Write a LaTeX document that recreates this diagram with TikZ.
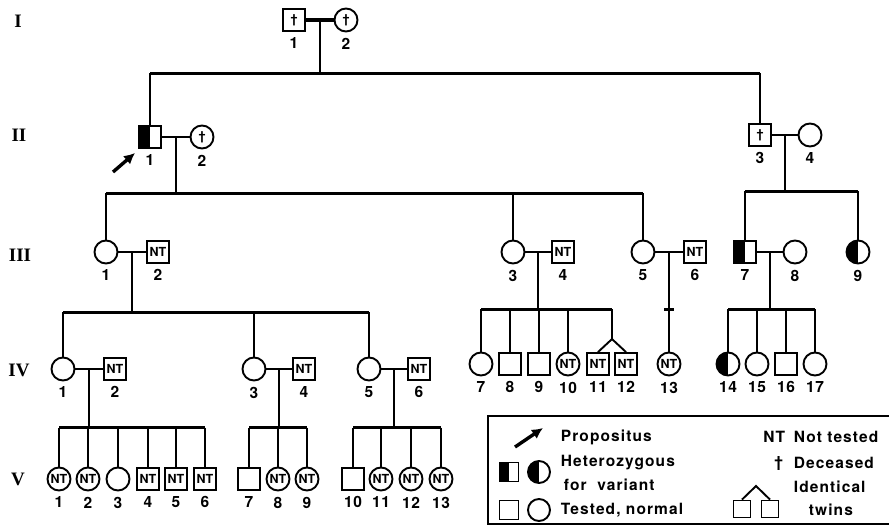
\documentclass[tikz,border=0pt]{standalone}
\usepackage{fontspec}
\setmainfont{TeX Gyre Heros}
\newfontfamily\genfont{Liberation Serif}
\newfontfamily\keyfont[LetterSpace=7]{TeX Gyre Heros}
\newfontfamily\numfont[LetterSpace=4]{TeX Gyre Heros}
\usetikzlibrary{arrows.meta, calc}

\newcommand{\numsize}{\numfont\bfseries\fontsize{15.5}{16}\selectfont}
\newcommand{\ntsize}{\bfseries\fontsize{12.5}{12.5}\selectfont}
\newcommand{\keysize}{\keyfont\bfseries\fontsize{15.5}{17}\selectfont}

\tikzset{
  male/.style={draw, rectangle, minimum size=22pt, inner sep=0pt, font=\ntsize},
  female/.style={draw, circle, minimum size=23pt, inner sep=0pt, font=\ntsize},
  het/.style={path picture={\fill (path picture bounding box.south west) rectangle (path picture bounding box.north);}},
  num/.style={font=\numsize, inner sep=1pt, label distance=3.5pt},
  sib/.style={line width=3pt},
  gen/.style={font=\genfont\bfseries\fontsize{19}{19}\selectfont},
  key/.style={font=\keysize, anchor=west, inner sep=0pt},
  prop/.style={line width=3.4pt, -{Latex[length=11pt, width=11pt]}},
}

\begin{document}
\begin{tikzpicture}[x=1pt, y=-1pt, line width=1.9pt]
  \useasboundingbox (0,0) rectangle (889,528);

  % generation numbers
  \node[gen] (gI) at (18,21) {I};
  \node[gen] (gII) at (19,135) {II};
  \node[gen] (gIII) at (20,255) {III};
  \node[gen] (gIV) at (19,370) {IV};
  \node[gen] (gV) at (18,479) {V};

  % levels of the sibship lines
  \coordinate (lvI) at (0,73);
  \coordinate (lvIIa) at (0,193);
  \coordinate (lvIIb) at (0,191);
  \coordinate (lvIIIa) at (0,312);
  \coordinate (lvIIIb) at (0,309);
  \coordinate (lvIV) at (0,427.5);

  % generation I
  \node[male, label={[num]below:1}] (I1) at (294,20) {\textdagger};
  \node[female, label={[num]below:2}] (I2) at (346,20) {\textdagger};

  % generation II
  \node[male, het, label={[num]below:1}] (II1) at (150,137) {};
  \node[female, label={[num]below:2}] (II2) at (202,137) {\textdagger};
  \node[male, label={[num]below:3}] (II3) at (760,135) {\textdagger};
  \node[female, label={[num]below:4}] (II4) at (810,135) {};

  % generation III
  \node[female, label={[num]below:1}] (III1) at (106,252) {};
  \node[male, label={[num]below:2}] (III2) at (158,252) {NT};
  \node[female, label={[num]below:3}] (III3) at (513,252) {};
  \node[male, label={[num]below:4}] (III4) at (563,252) {NT};
  \node[female, label={[num]below:5}] (III5) at (643,252) {};
  \node[male, label={[num]below:6}] (III6) at (695,252) {NT};
  \node[male, het, label={[num]below:7}] (III7) at (745,252) {};
  \node[female, label={[num]below:8}] (III8) at (795,252) {};
  \node[female, het, label={[num]below:9}] (III9) at (858,252) {};

  % generation IV
  \node[female, label={[num]below:1}] (IV1) at (63,369) {};
  \node[male, label={[num]below:2}] (IV2) at (115,369) {NT};
  \node[female, label={[num]below:3}] (IV3) at (254,369) {};
  \node[male, label={[num]below:4}] (IV4) at (304,369) {NT};
  \node[female, label={[num]below:5}] (IV5) at (369,369) {};
  \node[male, label={[num]below:6}] (IV6) at (419,369) {NT};
  \node[female, label={[num]below:7}] (IV7) at (481,364) {};
  \node[male, label={[num]below:8}] (IV8) at (510,364) {};
  \node[male, label={[num]below:9}] (IV9) at (539,364) {};
  \node[female, label={[num]below:10}] (IV10) at (568,364) {NT};
  \node[male, label={[num]below:11}] (IV11) at (598,364) {NT};
  \node[male, label={[num]below:12}] (IV12) at (626,364) {NT};
  \node[female, label={[num]below:13}] (IV13) at (669,364) {NT};
  \node[female, het, label={[num]below:14}] (IV14) at (728,364) {};
  \node[female, label={[num]below:15}] (IV15) at (757,364) {};
  \node[male, label={[num]below:16}] (IV16) at (786,364) {};
  \node[female, label={[num]below:17}] (IV17) at (815,364) {};

  % generation V
  \node[female, label={[num]below:1}] (V1) at (59,479) {NT};
  \node[female, label={[num]below:2}] (V2) at (88,479) {NT};
  \node[female, label={[num]below:3}] (V3) at (118,479) {};
  \node[male, label={[num]below:4}] (V4) at (148,479) {NT};
  \node[male, label={[num]below:5}] (V5) at (176,479) {NT};
  \node[male, label={[num]below:6}] (V6) at (205,479) {NT};
  \node[male, label={[num]below:7}] (V7) at (249,479) {};
  \node[female, label={[num]below:8}] (V8) at (278,479) {NT};
  \node[female, label={[num]below:9}] (V9) at (307,479) {NT};
  \node[male, label={[num]below:10}] (V10) at (353,479) {};
  \node[female, label={[num]below:11}] (V11) at (381,479) {NT};
  \node[female, label={[num]below:12}] (V12) at (411,479) {NT};
  \node[female, label={[num]below:13}] (V13) at (441,479) {NT};

  % marriages
  \draw[line width=4pt] (I1) -- (I2);
  \foreach \a/\b in {II1/II2, II3/II4, III1/III2, III3/III4, III5/III6,
                     III7/III8, IV1/IV2, IV3/IV4, IV5/IV6}
    \draw (\a) -- (\b);

  % parents to sibship lines
  \coordinate (mI) at ($(I1)!0.5!(I2)$);
  \coordinate (mIIa) at ($(II1)!0.5!(II2)$);
  \coordinate (mIIb) at ($(II3)!0.5!(II4)$);
  \coordinate (mIIIa) at ($(III1)!0.5!(III2)$);
  \coordinate (mIIIb) at ($(III3)!0.5!(III4)$);
  \coordinate (mIIIc) at ($(III5)!0.5!(III6)$);
  \coordinate (mIIId) at ($(III7)!0.5!(III8)$);
  \coordinate (mIVa) at ($(IV1)!0.5!(IV2)$);
  \coordinate (mIVb) at ($(IV3)!0.5!(IV4)$);
  \coordinate (mIVc) at ($(IV5)!0.5!(IV6)$);
  \draw (mI) -- (mI |- lvI);
  \draw (mIIa) -- (mIIa |- lvIIa);
  \draw (mIIb) -- (mIIb |- lvIIb);
  \draw (mIIIa) -- (mIIIa |- lvIIIa);
  \draw (mIIIb) -- (mIIIb |- lvIIIb);
  \draw (mIIId) -- (mIIId |- lvIIIb);
  \draw (mIVa) -- (mIVa |- lvIV);
  \draw (mIVb) -- (mIVb |- lvIV);
  \draw (mIVc) -- (mIVc |- lvIV);

  % twins apex
  \coordinate (tw) at ($(IV11.north)!0.5!(IV12.north) + (0,-13)$);

  % sibship lines
  \draw[sib] (II1 |- lvI) -- (II3 |- lvI);
  \draw[sib] (III1 |- lvIIa) -- (III5 |- lvIIa);
  \draw[sib] (III7 |- lvIIb) -- (III9 |- lvIIb);
  \draw[sib] (IV1 |- lvIIIa) -- (IV5 |- lvIIIa);
  \draw[sib] (IV7 |- lvIIIb) -- (tw |- lvIIIb);
  \draw[sib] (IV14 |- lvIIIb) -- (IV17 |- lvIIIb);
  \draw[sib] (V1 |- lvIV) -- (V6 |- lvIV);
  \draw[sib] (V7 |- lvIV) -- (V9 |- lvIV);
  \draw[sib] (V10 |- lvIV) -- (V13 |- lvIV);

  % children
  \foreach \c in {II1, II3} \draw (\c |- lvI) -- (\c);
  \foreach \c in {III1, III3, III5} \draw (\c |- lvIIa) -- (\c);
  \foreach \c in {III7, III9} \draw (\c |- lvIIb) -- (\c);
  \foreach \c in {IV1, IV3, IV5} \draw (\c |- lvIIIa) -- (\c);
  \foreach \c in {IV7, IV8, IV9, IV10, IV14, IV15, IV16, IV17}
    \draw (\c |- lvIIIb) -- (\c);
  \foreach \c in {V1, V2, V3, V4, V5, V6, V7, V8, V9, V10, V11, V12, V13}
    \draw (\c |- lvIV) -- (\c);

  % twins and only child
  \draw (tw |- lvIIIb) -- (tw);
  \draw (IV11.north) -- (tw) -- (IV12.north);
  \draw (mIIIc) -- (IV13);
  \draw[sib] ([xshift=-5pt]mIIIc |- lvIIIb) -- ([xshift=5pt]mIIIc |- lvIIIb);

  % propositus
  \coordinate (pA) at (113,172);
  \draw[prop] (pA) -- ([shift={(-3pt,-4pt)}]II1.south west);

  % key
  \draw (889,416) -- (488,416) -- (488,524) -- (889,524);
  \coordinate (kA) at (515,447);
  \coordinate (kB) at (543,428);
  \draw[prop] (kA) -- (kB);
  \node[key] (kProp) at (560,437) {Propositus};
  \node[male, het, minimum size=19pt] (kHm) at (509,472) {};
  \node[female, het, minimum size=22pt] (kHf) at (539,472) {};
  \node[key] (kHet) at (560,463) {Heterozygous};
  \node[key] (kVar) at (563,485) {for\ \ variant};
  \node[male, minimum size=19pt] (kNm) at (509,510) {};
  \node[female, minimum size=22pt] (kNf) at (539,510) {};
  \node[key] (kNorm) at (560,510) {Tested, normal};
  \node[key, anchor=east] (kNTa) at (786,437) {NT};
  \node[key] (kNT) at (793,437) {Not tested};
  \node[key, anchor=east] (kDaga) at (784,463) {\textdagger};
  \node[key] (kDag) at (793,463) {Deceased};
  \node[male, minimum size=17pt] (kT1) at (742,509) {};
  \node[male, minimum size=17pt] (kT2) at (770,509) {};
  \coordinate (kTw) at (756,486);
  \draw (kT1.north) -- (kTw) -- (kT2.north);
  \node[key] (kId) at (793,487) {Identical};
  \node[key] (kTwins) at (808,510) {twins};
\end{tikzpicture}
\end{document}
